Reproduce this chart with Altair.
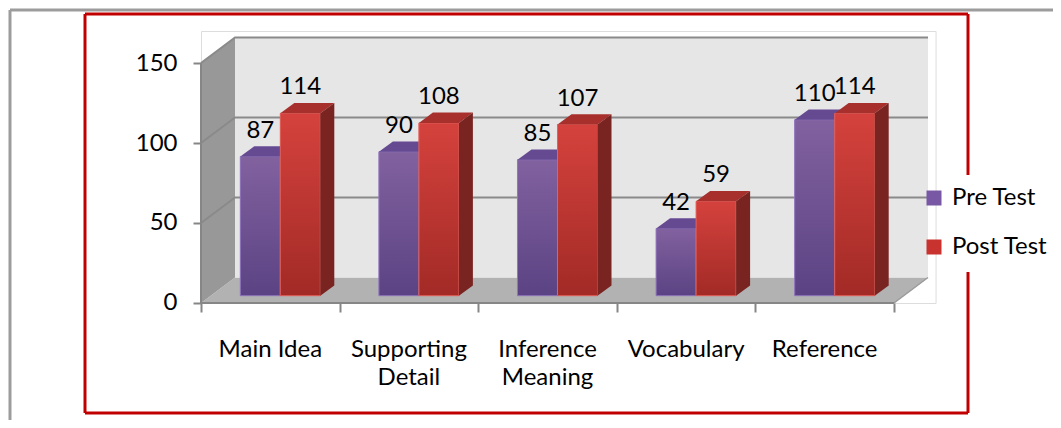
import altair as alt
import pandas as pd

# ---------------- data ----------------
categories = ["Main Idea", "Supporting\nDetail", "Inference\nMeaning", "Vocabulary", "Reference"]
pre_test = [87, 90, 85, 42, 110]
post_test = [114, 108, 107, 59, 114]
series_names = ["Pre Test", "Post Test"]
y_ticks = [0, 50, 100, 150]

# ---------------- geometry (pixels per data unit) ----------------
PXU = 138.6           # px per category
PXV = 1.6             # px per value unit
XMAX, YMAX = 5.3, 170
W, H = XMAX * PXU, YMAX * PXV
WU, WV = 34 / PXU, 25.5 / PXV      # depth of the chart box
BU, BV = 10 / PXU, 7.3 / PXV       # bar front plane offset
BW = 40 / PXU                      # bar width
DU, DV = 14 / PXU, 10.3 / PXV      # bar depth

N = len(categories)
GRID = "#8A8A8A"

xs = alt.Scale(domain=[0, XMAX], nice=False, zero=False)
ys = alt.Scale(domain=[0, YMAX], nice=False, zero=False)
XAX = alt.Axis(
    values=list(range(N + 1)), title=None, domain=False, grid=False,
    tickSize=9, tickWidth=2, tickColor="#868686", labels=False,
)
YAX = alt.Axis(
    values=y_ticks, title=None, domain=False, grid=False, tickSize=8,
    tickWidth=2, tickColor="#868686", labelFontSize=24, labelFont="Lato",
    labelColor="#000000", labelPadding=16,
)


def X(field, **kw):
    return alt.X(field, scale=xs, axis=XAX, **kw)


def Y(field, **kw):
    return alt.Y(field, scale=ys, axis=YAX, **kw)


# ---------------- walls ----------------
left_wall = pd.DataFrame({"x": [0, WU], "y": [0, WV], "y2": [150, 150 + WV]})
floor = pd.DataFrame({"y": [0, WV], "x": [0, WU], "x2": [N, N + WU]})
back_wall = pd.DataFrame({"x": [WU], "x2": [N + WU], "y": [WV], "y2": [150 + WV]})

lw = alt.Chart(left_wall).mark_area(color="#989898").encode(
    x=X("x:Q"), y=Y("y:Q", stack=None), y2="y2:Q"
)
fl = alt.Chart(floor).mark_area(orient="horizontal", color="#B2B2B2").encode(
    y=Y("y:Q"), x=X("x:Q", stack=None), x2="x2:Q"
)
fl_edge = alt.Chart(pd.DataFrame({"x": [N, N + WU], "y": [0, WV]})).mark_line(
    color="#9A9A9A", strokeWidth=1.5
).encode(x=X("x:Q"), y=Y("y:Q"))
bw = alt.Chart(back_wall).mark_rect(color="#E6E6E6").encode(
    x=X("x:Q"), x2="x2:Q", y=Y("y:Q"), y2="y2:Q"
)

grid_rows = []
for v in y_ticks[1:]:
    grid_rows.append({"g": v, "x": 0, "y": v})
    grid_rows.append({"g": v, "x": WU, "y": v + WV})
    grid_rows.append({"g": v, "x": N + WU, "y": v + WV})
grid = alt.Chart(pd.DataFrame(grid_rows)).mark_line(color=GRID, strokeWidth=2).encode(
    x=X("x:Q"), y=Y("y:Q"), detail="g:N"
)

# ---------------- axis lines ----------------
yaxis_line = alt.Chart(pd.DataFrame({"x": [0], "y": [0], "y2": [150]})).mark_rule(
    color="#868686", strokeWidth=2
).encode(x=X("x:Q"), y=Y("y:Q"), y2="y2:Q")
xaxis_line = alt.Chart(pd.DataFrame({"x": [0], "x2": [N], "y": [0]})).mark_rule(
    color="#868686", strokeWidth=2
).encode(x=X("x:Q"), x2="x2:Q", y=Y("y:Q"))

# ---------------- bars ----------------
front_rows, top_rows, side_rows = [], [], []
for i in range(N):
    for s, (name, vals) in enumerate(zip(series_names, [pre_test, post_test])):
        v = vals[i]
        a = i + 0.5 + BU - BW + s * BW
        key = f"{i}-{s}"
        front_rows.append({"series": name, "x": a, "x2": a + BW, "y": BV, "y2": BV + v,
                           "xc": a + BW / 2, "v": v})
        top_rows.append({"series": name, "key": key, "y": BV + v, "x": a, "x2": a + BW})
        top_rows.append({"series": name, "key": key, "y": BV + v + DV, "x": a + DU, "x2": a + BW + DU})
        side_rows.append({"series": name, "key": key, "x": a + BW, "y": BV, "y2": BV + v})
        side_rows.append({"series": name, "key": key, "x": a + BW + DU, "y": BV + DV, "y2": BV + DV + v})

fronts = pd.DataFrame(front_rows)
tops = pd.DataFrame(top_rows)
sides = pd.DataFrame(side_rows)

flat = alt.Chart(fronts).mark_rect().encode(
    x=X("x:Q"), x2="x2:Q",
    y=Y("y:Q"), y2="y2:Q",
    color=alt.Color(
        "series:N",
        scale=alt.Scale(domain=series_names, range=["#7858A4", "#C8332F"]),
        sort=series_names,
        legend=alt.Legend(
            title=None, orient="none", legendX=721, legendY=155, symbolType="square",
            symbolSize=225, symbolStrokeWidth=0, labelFontSize=24, labelFont="Lato",
            labelColor="#000000", rowPadding=25, labelOffset=6,
        ),
    ),
)

styles = {
    "Pre Test": dict(top="#82619F", bottom="#5B4383", cap="#654A92", side="#4A356B", edge="#9277BE"),
    "Post Test": dict(top="#D5423D", bottom="#A22A26", cap="#A7302C", side="#7A2421", edge="#E3625C"),
}

bar_layers = []
for name in series_names:
    st = styles[name]
    grad = alt.Gradient(
        gradient="linear",
        stops=[alt.GradientStop(color=st["top"], offset=0), alt.GradientStop(color=st["bottom"], offset=1)],
        x1=0, x2=0, y1=0, y2=1,
    )
    front = alt.Chart(fronts[fronts.series == name]).mark_rect(
        fill=grad, stroke=st["edge"], strokeWidth=1
    ).encode(x=X("x:Q"), x2="x2:Q", y=Y("y:Q"), y2="y2:Q")
    top = alt.Chart(tops[tops.series == name]).mark_area(
        orient="horizontal", fill=st["cap"]
    ).encode(y=Y("y:Q"), x=X("x:Q", stack=None), x2="x2:Q", detail="key:N")
    side = alt.Chart(sides[sides.series == name]).mark_area(
        fill=st["side"]
    ).encode(x=X("x:Q"), y=Y("y:Q", stack=None), y2="y2:Q", detail="key:N")
    bar_layers += [front, top, side]

values = alt.Chart(fronts).mark_text(
    font="Lato", fontSize=24, color="#000000", baseline="alphabetic", align="center", dy=-19
).encode(x=X("xc:Q"), y=Y("y2:Q"), text="v:Q")

cat_df = pd.DataFrame({"cat": categories, "x": [i + 0.5 for i in range(N)]})
cat_labels = alt.Chart(cat_df).mark_text(
    font="Lato", fontSize=24, color="#000000", baseline="alphabetic", align="center",
    lineBreak="\n", lineHeight=28,
).encode(x=X("x:Q"), y=alt.value(326), text="cat:N")

# ---------------- frames (decoration, pixel space) ----------------
one = pd.DataFrame({"k": [0]})


def frame(x, x2, y, y2, color):
    return alt.Chart(one).mark_rule(color=color, strokeWidth=3).encode(
        x=alt.value(x), x2=alt.value(x2), y=alt.value(y), y2=alt.value(y2)
    )


GRAY, RED = "#9C9C9C", "#C00000"
frames = [
    frame(-191, 860, -21, -21, GRAY),
    frame(-191, -191, -21, 400, GRAY),
    frame(-116, 767, -17, -17, RED),
    frame(-116, 767, 382, 382, RED),
    frame(-116, -116, -17, 382, RED),
    frame(767, 767, -17, 144, RED),
    frame(767, 767, 241, 382, RED),
]

chart = alt.layer(
    *frames, fl, lw, bw, grid, fl_edge, yaxis_line, xaxis_line, flat,
    *bar_layers, values, cat_labels,
).properties(
    width=W, height=H,
    autosize=alt.AutoSizeParams(type="none"),
    padding={"left": 193, "top": 23, "right": 117, "bottom": 117},
).configure_view(stroke=None).configure(font="Lato", background="#FFFFFF")

chart.save("out.html", embed_options={"renderer": "svg", "actions": False})
